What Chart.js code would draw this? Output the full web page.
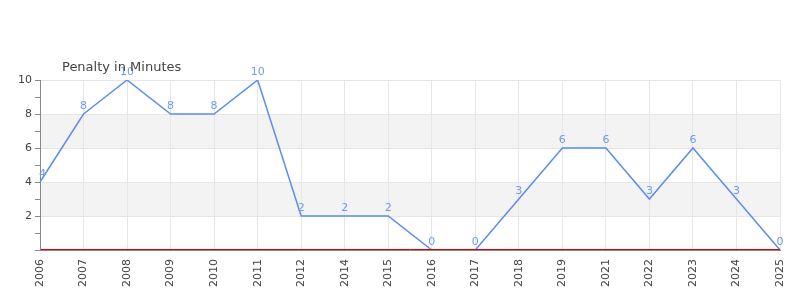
<!DOCTYPE html>
<html><head><meta charset="utf-8">
<script src="https://cdn.jsdelivr.net/npm/chart.js@4"></script>
<style>html,body{margin:0;padding:0;background:#fff}#wrap{width:800px;height:300px}</style>
</head><body><div id="wrap"><canvas id="c" width="800" height="300"></canvas></div>
<script>
const years = ["2006","2007","2008","2009","2010","2011","2012","2014","2015","2016","2017","2018","2019","2021","2022","2023","2024","2025"];
const penaltyMinutes = [4,8,10,8,8,10,2,2,2,0,0,3,6,6,3,6,3,0];
const yTickLabels = [2,4,6,8,10];
const bands = [[2,4],[6,8]];
const chartTitle = "Penalty in Minutes";

const font = "DejaVu Sans";
const bandPlugin = {
  id:'bands',
  beforeDraw(chart){
    const {ctx, chartArea:a, scales:{y}} = chart;
    ctx.save();
    ctx.fillStyle = '#f3f3f3';
    bands.forEach(([lo,hi])=>{
      const t = y.getPixelForValue(hi), b = y.getPixelForValue(lo);
      ctx.fillRect(a.left, t, a.right-a.left, b-t);
    });
    ctx.restore();
  },
  afterDatasetsDraw(chart){
    const {ctx, chartArea:a, scales:{y}} = chart;
    const meta = chart.getDatasetMeta(0);
    ctx.save();
    // red zero line
    const y0 = Math.round(y.getPixelForValue(0));
    ctx.strokeStyle = '#e00000';
    ctx.lineWidth = 1;
    ctx.beginPath(); ctx.moveTo(a.left+1, y0-0.5); ctx.lineTo(a.right, y0-0.5); ctx.stroke();
    // data labels
    ctx.fillStyle = '#6f9be8';
    ctx.font = '11px "' + font + '"';
    ctx.textAlign = 'center';
    ctx.textBaseline = 'alphabetic';
    meta.data.forEach((pt,i)=>{
      let x = pt.x;
      const w = ctx.measureText(String(penaltyMinutes[i])).width;
      if (x - w/2 < a.left - 2) x = a.left - 2 + w/2 + 1;
      ctx.fillText(String(penaltyMinutes[i]), x, pt.y - 5);
    });
    // title
    ctx.fillStyle = '#444';
    ctx.font = '13px "' + font + '"';
    ctx.textAlign = 'left';
    ctx.textBaseline = 'middle';
    ctx.fillText(chartTitle, 62, 67.5);
    ctx.restore();
  }
};

new Chart(document.getElementById('c'), {
  type:'line',
  data:{labels:years, datasets:[{data:penaltyMinutes, borderColor:'#5b8def', borderWidth:1.5, pointRadius:0, tension:0, fill:false}]},
  options:{
    responsive:false, animation:false,
    layout:{padding:{top:80,right:20,left:0,bottom:0}},
    plugins:{legend:{display:false}, tooltip:{enabled:false}, title:{display:false}},
    scales:{
      x:{
        offset:false,
        grid:{color:'#e6e6e6', drawTicks:false},
        border:{color:'#888', width:1},
        ticks:{minRotation:90, maxRotation:90, color:'#444', font:{family:font,size:11}, padding:9, autoSkip:false},
        afterFit(s){ s.height = 50; s.paddingLeft = 0; s.paddingRight = 0; }
      },
      y:{
        min:0, max:10,
        border:{color:'#888', width:1},
        grid:{
          color:c=> (c.tick && c.tick.value%2===0) ? (c.tick.value===0 ? '#888' : '#e6e6e6') : 'transparent',
          tickColor:'#888', tickLength:5
        },
        ticks:{stepSize:1, color:'#444', font:{family:font,size:11}, padding:3,
          callback:v=> yTickLabels.includes(v) ? String(v) : ''},
        afterFit(s){ s.width = 40; s.paddingTop = 0; s.paddingBottom = 0; }
      }
    }
  },
  plugins:[bandPlugin]
});
</script></body></html>
